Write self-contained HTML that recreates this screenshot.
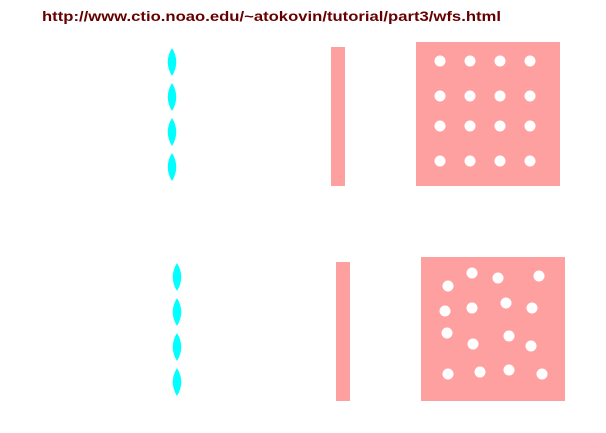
<!DOCTYPE html>
<html><head><meta charset="utf-8"><style>
html,body{margin:0;padding:0;background:#fff;width:606px;height:433px;overflow:hidden}
</style></head><body>
<svg width="606" height="433" viewBox="0 0 606 433" xmlns="http://www.w3.org/2000/svg">
<defs><path id="L" d="M0,-14 Q8.5,0 0,14 Q-8.5,0 0,-14Z"/></defs>
<rect width="606" height="433" fill="#fff"/>
<text x="42" y="21" font-family="Liberation Sans, sans-serif" font-weight="bold" font-size="13.5" fill="#660000" textLength="459" lengthAdjust="spacingAndGlyphs">http://www.ctio.noao.edu/~atokovin/tutorial/part3/wfs.html</text>
<g fill="#00ffff">
<use href="#L" x="172" y="62"/>
<use href="#L" x="172" y="97"/>
<use href="#L" x="172" y="132"/>
<use href="#L" x="172" y="167"/>
<use href="#L" x="177" y="277"/>
<use href="#L" x="177" y="312"/>
<use href="#L" x="177" y="347"/>
<use href="#L" x="177" y="382"/>
</g>
<g fill="#ffa0a0">
<rect x="331" y="47" width="14" height="139"/>
<rect x="336" y="262" width="14" height="139"/>
<rect x="416" y="42" width="144" height="144"/>
<rect x="421" y="257" width="144" height="144"/>
</g>
<g fill="#fff">
<circle cx="440" cy="61" r="5.5"/><circle cx="470" cy="61" r="5.5"/><circle cx="500" cy="61" r="5.5"/><circle cx="530" cy="61" r="5.5"/>
<circle cx="440" cy="96" r="5.5"/><circle cx="470" cy="96" r="5.5"/><circle cx="500" cy="96" r="5.5"/><circle cx="530" cy="96" r="5.5"/>
<circle cx="440" cy="126" r="5.5"/><circle cx="470" cy="126" r="5.5"/><circle cx="500" cy="126" r="5.5"/><circle cx="530" cy="126" r="5.5"/>
<circle cx="440" cy="161" r="5.5"/><circle cx="470" cy="161" r="5.5"/><circle cx="500" cy="161" r="5.5"/><circle cx="530" cy="161" r="5.5"/>
<circle cx="448" cy="286" r="5.5"/><circle cx="472" cy="273" r="5.5"/><circle cx="498" cy="278" r="5.5"/><circle cx="539" cy="276" r="5.5"/>
<circle cx="445" cy="311" r="5.5"/><circle cx="472" cy="308" r="5.5"/><circle cx="506" cy="303" r="5.5"/><circle cx="532" cy="308" r="5.5"/>
<circle cx="447" cy="333" r="5.5"/><circle cx="473" cy="344" r="5.5"/><circle cx="509" cy="336" r="5.5"/><circle cx="531" cy="346" r="5.5"/>
<circle cx="448" cy="374" r="5.5"/><circle cx="480" cy="372" r="5.5"/><circle cx="509" cy="370" r="5.5"/><circle cx="542" cy="374" r="5.5"/>
</g>
</svg>
</body></html>
